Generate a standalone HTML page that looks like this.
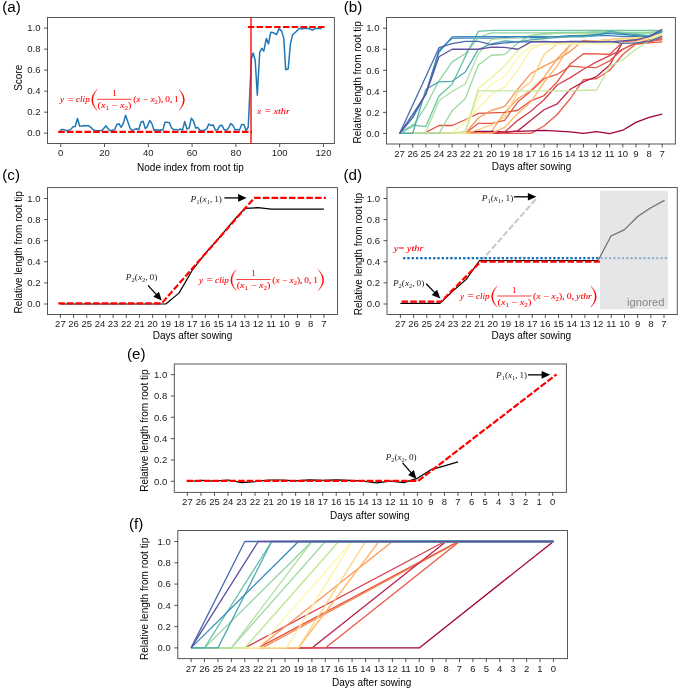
<!DOCTYPE html>
<html><head><meta charset="utf-8"><style>
html,body{margin:0;padding:0;background:#fff;overflow:hidden;width:685px;height:689px;}
svg{display:block;will-change:transform;}
.t{font-family:"Liberation Sans", sans-serif;font-size:10px;fill:#000;}
.L{font-family:"Liberation Sans", sans-serif;font-size:14.5px;fill:#000;}
.k{font-family:"Liberation Sans", sans-serif;font-size:9.5px;fill:#1a1a1a;}
.m{font-family:"Liberation Serif", serif;font-style:italic;fill:#ff0000;}
</style></head><body>
<svg width="685" height="689" viewBox="0 0 685 689">
<rect width="685" height="689" fill="#fff"/>
<rect x="47.5" y="17.5" width="286.9" height="126" fill="none" stroke="#000" stroke-width="1" stroke-opacity="0.66"/>
<line x1="44" y1="133.2" x2="47.5" y2="133.2" stroke="#000" stroke-width="1" stroke-opacity="0.66"/>
<text x="40.5" y="136.45" text-anchor="end" class="k">0.0</text>
<line x1="44" y1="112.18" x2="47.5" y2="112.18" stroke="#000" stroke-width="1" stroke-opacity="0.66"/>
<text x="40.5" y="115.43" text-anchor="end" class="k">0.2</text>
<line x1="44" y1="91.16" x2="47.5" y2="91.16" stroke="#000" stroke-width="1" stroke-opacity="0.66"/>
<text x="40.5" y="94.41" text-anchor="end" class="k">0.4</text>
<line x1="44" y1="70.14" x2="47.5" y2="70.14" stroke="#000" stroke-width="1" stroke-opacity="0.66"/>
<text x="40.5" y="73.39" text-anchor="end" class="k">0.6</text>
<line x1="44" y1="49.12" x2="47.5" y2="49.12" stroke="#000" stroke-width="1" stroke-opacity="0.66"/>
<text x="40.5" y="52.37" text-anchor="end" class="k">0.8</text>
<line x1="44" y1="28.1" x2="47.5" y2="28.1" stroke="#000" stroke-width="1" stroke-opacity="0.66"/>
<text x="40.5" y="31.35" text-anchor="end" class="k">1.0</text>
<line x1="60.7" y1="143.5" x2="60.7" y2="147" stroke="#000" stroke-width="1" stroke-opacity="0.66"/>
<text x="60.7" y="156" text-anchor="middle" class="k">0</text>
<line x1="104.5" y1="143.5" x2="104.5" y2="147" stroke="#000" stroke-width="1" stroke-opacity="0.66"/>
<text x="104.5" y="156" text-anchor="middle" class="k">20</text>
<line x1="148.3" y1="143.5" x2="148.3" y2="147" stroke="#000" stroke-width="1" stroke-opacity="0.66"/>
<text x="148.3" y="156" text-anchor="middle" class="k">40</text>
<line x1="192.1" y1="143.5" x2="192.1" y2="147" stroke="#000" stroke-width="1" stroke-opacity="0.66"/>
<text x="192.1" y="156" text-anchor="middle" class="k">60</text>
<line x1="235.9" y1="143.5" x2="235.9" y2="147" stroke="#000" stroke-width="1" stroke-opacity="0.66"/>
<text x="235.9" y="156" text-anchor="middle" class="k">80</text>
<line x1="279.7" y1="143.5" x2="279.7" y2="147" stroke="#000" stroke-width="1" stroke-opacity="0.66"/>
<text x="279.7" y="156" text-anchor="middle" class="k">100</text>
<line x1="323.5" y1="143.5" x2="323.5" y2="147" stroke="#000" stroke-width="1" stroke-opacity="0.66"/>
<text x="323.5" y="156" text-anchor="middle" class="k">120</text>
<text x="190.4" y="170.7" text-anchor="middle" class="t">Node index from root tip</text>
<text transform="translate(22.3,77.8) rotate(-90)" text-anchor="middle" class="t">Score</text>
<text transform="translate(2.2,11.9) scale(1.05,1)" class="L">(a)</text>
<rect x="386.5" y="17.5" width="288.9" height="126.5" fill="none" stroke="#000" stroke-width="1" stroke-opacity="0.66"/>
<line x1="383" y1="133.4" x2="386.5" y2="133.4" stroke="#000" stroke-width="1" stroke-opacity="0.66"/>
<text x="379.5" y="136.65" text-anchor="end" class="k">0.0</text>
<line x1="383" y1="112.36" x2="386.5" y2="112.36" stroke="#000" stroke-width="1" stroke-opacity="0.66"/>
<text x="379.5" y="115.61" text-anchor="end" class="k">0.2</text>
<line x1="383" y1="91.32" x2="386.5" y2="91.32" stroke="#000" stroke-width="1" stroke-opacity="0.66"/>
<text x="379.5" y="94.57" text-anchor="end" class="k">0.4</text>
<line x1="383" y1="70.28" x2="386.5" y2="70.28" stroke="#000" stroke-width="1" stroke-opacity="0.66"/>
<text x="379.5" y="73.53" text-anchor="end" class="k">0.6</text>
<line x1="383" y1="49.24" x2="386.5" y2="49.24" stroke="#000" stroke-width="1" stroke-opacity="0.66"/>
<text x="379.5" y="52.49" text-anchor="end" class="k">0.8</text>
<line x1="383" y1="28.2" x2="386.5" y2="28.2" stroke="#000" stroke-width="1" stroke-opacity="0.66"/>
<text x="379.5" y="31.45" text-anchor="end" class="k">1.0</text>
<line x1="399.6" y1="144" x2="399.6" y2="147.5" stroke="#000" stroke-width="1" stroke-opacity="0.66"/>
<text x="399.6" y="156.8" text-anchor="middle" class="k">27</text>
<line x1="412.73" y1="144" x2="412.73" y2="147.5" stroke="#000" stroke-width="1" stroke-opacity="0.66"/>
<text x="412.73" y="156.8" text-anchor="middle" class="k">26</text>
<line x1="425.86" y1="144" x2="425.86" y2="147.5" stroke="#000" stroke-width="1" stroke-opacity="0.66"/>
<text x="425.86" y="156.8" text-anchor="middle" class="k">25</text>
<line x1="438.99" y1="144" x2="438.99" y2="147.5" stroke="#000" stroke-width="1" stroke-opacity="0.66"/>
<text x="438.99" y="156.8" text-anchor="middle" class="k">24</text>
<line x1="452.12" y1="144" x2="452.12" y2="147.5" stroke="#000" stroke-width="1" stroke-opacity="0.66"/>
<text x="452.12" y="156.8" text-anchor="middle" class="k">23</text>
<line x1="465.25" y1="144" x2="465.25" y2="147.5" stroke="#000" stroke-width="1" stroke-opacity="0.66"/>
<text x="465.25" y="156.8" text-anchor="middle" class="k">22</text>
<line x1="478.38" y1="144" x2="478.38" y2="147.5" stroke="#000" stroke-width="1" stroke-opacity="0.66"/>
<text x="478.38" y="156.8" text-anchor="middle" class="k">21</text>
<line x1="491.51" y1="144" x2="491.51" y2="147.5" stroke="#000" stroke-width="1" stroke-opacity="0.66"/>
<text x="491.51" y="156.8" text-anchor="middle" class="k">20</text>
<line x1="504.64" y1="144" x2="504.64" y2="147.5" stroke="#000" stroke-width="1" stroke-opacity="0.66"/>
<text x="504.64" y="156.8" text-anchor="middle" class="k">19</text>
<line x1="517.77" y1="144" x2="517.77" y2="147.5" stroke="#000" stroke-width="1" stroke-opacity="0.66"/>
<text x="517.77" y="156.8" text-anchor="middle" class="k">18</text>
<line x1="530.9" y1="144" x2="530.9" y2="147.5" stroke="#000" stroke-width="1" stroke-opacity="0.66"/>
<text x="530.9" y="156.8" text-anchor="middle" class="k">17</text>
<line x1="544.03" y1="144" x2="544.03" y2="147.5" stroke="#000" stroke-width="1" stroke-opacity="0.66"/>
<text x="544.03" y="156.8" text-anchor="middle" class="k">16</text>
<line x1="557.16" y1="144" x2="557.16" y2="147.5" stroke="#000" stroke-width="1" stroke-opacity="0.66"/>
<text x="557.16" y="156.8" text-anchor="middle" class="k">15</text>
<line x1="570.29" y1="144" x2="570.29" y2="147.5" stroke="#000" stroke-width="1" stroke-opacity="0.66"/>
<text x="570.29" y="156.8" text-anchor="middle" class="k">14</text>
<line x1="583.42" y1="144" x2="583.42" y2="147.5" stroke="#000" stroke-width="1" stroke-opacity="0.66"/>
<text x="583.42" y="156.8" text-anchor="middle" class="k">13</text>
<line x1="596.55" y1="144" x2="596.55" y2="147.5" stroke="#000" stroke-width="1" stroke-opacity="0.66"/>
<text x="596.55" y="156.8" text-anchor="middle" class="k">12</text>
<line x1="609.68" y1="144" x2="609.68" y2="147.5" stroke="#000" stroke-width="1" stroke-opacity="0.66"/>
<text x="609.68" y="156.8" text-anchor="middle" class="k">11</text>
<line x1="622.81" y1="144" x2="622.81" y2="147.5" stroke="#000" stroke-width="1" stroke-opacity="0.66"/>
<text x="622.81" y="156.8" text-anchor="middle" class="k">10</text>
<line x1="635.94" y1="144" x2="635.94" y2="147.5" stroke="#000" stroke-width="1" stroke-opacity="0.66"/>
<text x="635.94" y="156.8" text-anchor="middle" class="k">9</text>
<line x1="649.07" y1="144" x2="649.07" y2="147.5" stroke="#000" stroke-width="1" stroke-opacity="0.66"/>
<text x="649.07" y="156.8" text-anchor="middle" class="k">8</text>
<line x1="662.2" y1="144" x2="662.2" y2="147.5" stroke="#000" stroke-width="1" stroke-opacity="0.66"/>
<text x="662.2" y="156.8" text-anchor="middle" class="k">7</text>
<text x="531.5" y="169.5" text-anchor="middle" class="t">Days after sowing</text>
<text transform="translate(361,82.3) rotate(-90)" text-anchor="middle" class="t">Relative length from root tip</text>
<text transform="translate(343.8,12.1) scale(1.05,1)" class="L">(b)</text>
<rect x="47.5" y="187.6" width="290" height="126.9" fill="none" stroke="#000" stroke-width="1" stroke-opacity="0.66"/>
<line x1="44" y1="304" x2="47.5" y2="304" stroke="#000" stroke-width="1" stroke-opacity="0.66"/>
<text x="40.5" y="307.25" text-anchor="end" class="k">0.0</text>
<line x1="44" y1="282.9" x2="47.5" y2="282.9" stroke="#000" stroke-width="1" stroke-opacity="0.66"/>
<text x="40.5" y="286.15" text-anchor="end" class="k">0.2</text>
<line x1="44" y1="261.8" x2="47.5" y2="261.8" stroke="#000" stroke-width="1" stroke-opacity="0.66"/>
<text x="40.5" y="265.05" text-anchor="end" class="k">0.4</text>
<line x1="44" y1="240.7" x2="47.5" y2="240.7" stroke="#000" stroke-width="1" stroke-opacity="0.66"/>
<text x="40.5" y="243.95" text-anchor="end" class="k">0.6</text>
<line x1="44" y1="219.6" x2="47.5" y2="219.6" stroke="#000" stroke-width="1" stroke-opacity="0.66"/>
<text x="40.5" y="222.85" text-anchor="end" class="k">0.8</text>
<line x1="44" y1="198.5" x2="47.5" y2="198.5" stroke="#000" stroke-width="1" stroke-opacity="0.66"/>
<text x="40.5" y="201.75" text-anchor="end" class="k">1.0</text>
<line x1="60.4" y1="314.5" x2="60.4" y2="318" stroke="#000" stroke-width="1" stroke-opacity="0.66"/>
<text x="60.4" y="327.3" text-anchor="middle" class="k">27</text>
<line x1="73.58" y1="314.5" x2="73.58" y2="318" stroke="#000" stroke-width="1" stroke-opacity="0.66"/>
<text x="73.58" y="327.3" text-anchor="middle" class="k">26</text>
<line x1="86.75" y1="314.5" x2="86.75" y2="318" stroke="#000" stroke-width="1" stroke-opacity="0.66"/>
<text x="86.75" y="327.3" text-anchor="middle" class="k">25</text>
<line x1="99.93" y1="314.5" x2="99.93" y2="318" stroke="#000" stroke-width="1" stroke-opacity="0.66"/>
<text x="99.93" y="327.3" text-anchor="middle" class="k">24</text>
<line x1="113.1" y1="314.5" x2="113.1" y2="318" stroke="#000" stroke-width="1" stroke-opacity="0.66"/>
<text x="113.1" y="327.3" text-anchor="middle" class="k">23</text>
<line x1="126.28" y1="314.5" x2="126.28" y2="318" stroke="#000" stroke-width="1" stroke-opacity="0.66"/>
<text x="126.28" y="327.3" text-anchor="middle" class="k">22</text>
<line x1="139.45" y1="314.5" x2="139.45" y2="318" stroke="#000" stroke-width="1" stroke-opacity="0.66"/>
<text x="139.45" y="327.3" text-anchor="middle" class="k">21</text>
<line x1="152.62" y1="314.5" x2="152.62" y2="318" stroke="#000" stroke-width="1" stroke-opacity="0.66"/>
<text x="152.62" y="327.3" text-anchor="middle" class="k">20</text>
<line x1="165.8" y1="314.5" x2="165.8" y2="318" stroke="#000" stroke-width="1" stroke-opacity="0.66"/>
<text x="165.8" y="327.3" text-anchor="middle" class="k">19</text>
<line x1="178.97" y1="314.5" x2="178.97" y2="318" stroke="#000" stroke-width="1" stroke-opacity="0.66"/>
<text x="178.97" y="327.3" text-anchor="middle" class="k">18</text>
<line x1="192.15" y1="314.5" x2="192.15" y2="318" stroke="#000" stroke-width="1" stroke-opacity="0.66"/>
<text x="192.15" y="327.3" text-anchor="middle" class="k">17</text>
<line x1="205.33" y1="314.5" x2="205.33" y2="318" stroke="#000" stroke-width="1" stroke-opacity="0.66"/>
<text x="205.33" y="327.3" text-anchor="middle" class="k">16</text>
<line x1="218.5" y1="314.5" x2="218.5" y2="318" stroke="#000" stroke-width="1" stroke-opacity="0.66"/>
<text x="218.5" y="327.3" text-anchor="middle" class="k">15</text>
<line x1="231.68" y1="314.5" x2="231.68" y2="318" stroke="#000" stroke-width="1" stroke-opacity="0.66"/>
<text x="231.68" y="327.3" text-anchor="middle" class="k">14</text>
<line x1="244.85" y1="314.5" x2="244.85" y2="318" stroke="#000" stroke-width="1" stroke-opacity="0.66"/>
<text x="244.85" y="327.3" text-anchor="middle" class="k">13</text>
<line x1="258.02" y1="314.5" x2="258.02" y2="318" stroke="#000" stroke-width="1" stroke-opacity="0.66"/>
<text x="258.02" y="327.3" text-anchor="middle" class="k">12</text>
<line x1="271.2" y1="314.5" x2="271.2" y2="318" stroke="#000" stroke-width="1" stroke-opacity="0.66"/>
<text x="271.2" y="327.3" text-anchor="middle" class="k">11</text>
<line x1="284.38" y1="314.5" x2="284.38" y2="318" stroke="#000" stroke-width="1" stroke-opacity="0.66"/>
<text x="284.38" y="327.3" text-anchor="middle" class="k">10</text>
<line x1="297.55" y1="314.5" x2="297.55" y2="318" stroke="#000" stroke-width="1" stroke-opacity="0.66"/>
<text x="297.55" y="327.3" text-anchor="middle" class="k">9</text>
<line x1="310.73" y1="314.5" x2="310.73" y2="318" stroke="#000" stroke-width="1" stroke-opacity="0.66"/>
<text x="310.73" y="327.3" text-anchor="middle" class="k">8</text>
<line x1="323.9" y1="314.5" x2="323.9" y2="318" stroke="#000" stroke-width="1" stroke-opacity="0.66"/>
<text x="323.9" y="327.3" text-anchor="middle" class="k">7</text>
<text x="192.5" y="338.9" text-anchor="middle" class="t">Days after sowing</text>
<text transform="translate(22.1,252.4) rotate(-90)" text-anchor="middle" class="t">Relative length from root tip</text>
<text transform="translate(2.2,180.1) scale(1.05,1)" class="L">(c)</text>
<rect x="387" y="187.5" width="290.3" height="127" fill="none" stroke="#000" stroke-width="1" stroke-opacity="0.66"/>
<line x1="383.5" y1="304" x2="387" y2="304" stroke="#000" stroke-width="1" stroke-opacity="0.66"/>
<text x="380" y="307.25" text-anchor="end" class="k">0.0</text>
<line x1="383.5" y1="282.9" x2="387" y2="282.9" stroke="#000" stroke-width="1" stroke-opacity="0.66"/>
<text x="380" y="286.15" text-anchor="end" class="k">0.2</text>
<line x1="383.5" y1="261.8" x2="387" y2="261.8" stroke="#000" stroke-width="1" stroke-opacity="0.66"/>
<text x="380" y="265.05" text-anchor="end" class="k">0.4</text>
<line x1="383.5" y1="240.7" x2="387" y2="240.7" stroke="#000" stroke-width="1" stroke-opacity="0.66"/>
<text x="380" y="243.95" text-anchor="end" class="k">0.6</text>
<line x1="383.5" y1="219.6" x2="387" y2="219.6" stroke="#000" stroke-width="1" stroke-opacity="0.66"/>
<text x="380" y="222.85" text-anchor="end" class="k">0.8</text>
<line x1="383.5" y1="198.5" x2="387" y2="198.5" stroke="#000" stroke-width="1" stroke-opacity="0.66"/>
<text x="380" y="201.75" text-anchor="end" class="k">1.0</text>
<line x1="400.4" y1="314.5" x2="400.4" y2="318" stroke="#000" stroke-width="1" stroke-opacity="0.66"/>
<text x="400.4" y="327.3" text-anchor="middle" class="k">27</text>
<line x1="413.58" y1="314.5" x2="413.58" y2="318" stroke="#000" stroke-width="1" stroke-opacity="0.66"/>
<text x="413.58" y="327.3" text-anchor="middle" class="k">26</text>
<line x1="426.76" y1="314.5" x2="426.76" y2="318" stroke="#000" stroke-width="1" stroke-opacity="0.66"/>
<text x="426.76" y="327.3" text-anchor="middle" class="k">25</text>
<line x1="439.94" y1="314.5" x2="439.94" y2="318" stroke="#000" stroke-width="1" stroke-opacity="0.66"/>
<text x="439.94" y="327.3" text-anchor="middle" class="k">24</text>
<line x1="453.12" y1="314.5" x2="453.12" y2="318" stroke="#000" stroke-width="1" stroke-opacity="0.66"/>
<text x="453.12" y="327.3" text-anchor="middle" class="k">23</text>
<line x1="466.3" y1="314.5" x2="466.3" y2="318" stroke="#000" stroke-width="1" stroke-opacity="0.66"/>
<text x="466.3" y="327.3" text-anchor="middle" class="k">22</text>
<line x1="479.48" y1="314.5" x2="479.48" y2="318" stroke="#000" stroke-width="1" stroke-opacity="0.66"/>
<text x="479.48" y="327.3" text-anchor="middle" class="k">21</text>
<line x1="492.66" y1="314.5" x2="492.66" y2="318" stroke="#000" stroke-width="1" stroke-opacity="0.66"/>
<text x="492.66" y="327.3" text-anchor="middle" class="k">20</text>
<line x1="505.84" y1="314.5" x2="505.84" y2="318" stroke="#000" stroke-width="1" stroke-opacity="0.66"/>
<text x="505.84" y="327.3" text-anchor="middle" class="k">19</text>
<line x1="519.02" y1="314.5" x2="519.02" y2="318" stroke="#000" stroke-width="1" stroke-opacity="0.66"/>
<text x="519.02" y="327.3" text-anchor="middle" class="k">18</text>
<line x1="532.2" y1="314.5" x2="532.2" y2="318" stroke="#000" stroke-width="1" stroke-opacity="0.66"/>
<text x="532.2" y="327.3" text-anchor="middle" class="k">17</text>
<line x1="545.38" y1="314.5" x2="545.38" y2="318" stroke="#000" stroke-width="1" stroke-opacity="0.66"/>
<text x="545.38" y="327.3" text-anchor="middle" class="k">16</text>
<line x1="558.56" y1="314.5" x2="558.56" y2="318" stroke="#000" stroke-width="1" stroke-opacity="0.66"/>
<text x="558.56" y="327.3" text-anchor="middle" class="k">15</text>
<line x1="571.74" y1="314.5" x2="571.74" y2="318" stroke="#000" stroke-width="1" stroke-opacity="0.66"/>
<text x="571.74" y="327.3" text-anchor="middle" class="k">14</text>
<line x1="584.92" y1="314.5" x2="584.92" y2="318" stroke="#000" stroke-width="1" stroke-opacity="0.66"/>
<text x="584.92" y="327.3" text-anchor="middle" class="k">13</text>
<line x1="598.1" y1="314.5" x2="598.1" y2="318" stroke="#000" stroke-width="1" stroke-opacity="0.66"/>
<text x="598.1" y="327.3" text-anchor="middle" class="k">12</text>
<line x1="611.28" y1="314.5" x2="611.28" y2="318" stroke="#000" stroke-width="1" stroke-opacity="0.66"/>
<text x="611.28" y="327.3" text-anchor="middle" class="k">11</text>
<line x1="624.46" y1="314.5" x2="624.46" y2="318" stroke="#000" stroke-width="1" stroke-opacity="0.66"/>
<text x="624.46" y="327.3" text-anchor="middle" class="k">10</text>
<line x1="637.64" y1="314.5" x2="637.64" y2="318" stroke="#000" stroke-width="1" stroke-opacity="0.66"/>
<text x="637.64" y="327.3" text-anchor="middle" class="k">9</text>
<line x1="650.82" y1="314.5" x2="650.82" y2="318" stroke="#000" stroke-width="1" stroke-opacity="0.66"/>
<text x="650.82" y="327.3" text-anchor="middle" class="k">8</text>
<line x1="664" y1="314.5" x2="664" y2="318" stroke="#000" stroke-width="1" stroke-opacity="0.66"/>
<text x="664" y="327.3" text-anchor="middle" class="k">7</text>
<text x="531.35" y="339.2" text-anchor="middle" class="t">Days after sowing</text>
<text transform="translate(361.5,254.1) rotate(-90)" text-anchor="middle" class="t">Relative length from root tip</text>
<text transform="translate(343.4,180.1) scale(1.05,1)" class="L">(d)</text>
<rect x="174.3" y="364" width="392.1" height="128.4" fill="none" stroke="#000" stroke-width="1" stroke-opacity="0.66"/>
<line x1="170.8" y1="481.3" x2="174.3" y2="481.3" stroke="#000" stroke-width="1" stroke-opacity="0.66"/>
<text x="167.3" y="484.55" text-anchor="end" class="k">0.0</text>
<line x1="170.8" y1="459.96" x2="174.3" y2="459.96" stroke="#000" stroke-width="1" stroke-opacity="0.66"/>
<text x="167.3" y="463.21" text-anchor="end" class="k">0.2</text>
<line x1="170.8" y1="438.62" x2="174.3" y2="438.62" stroke="#000" stroke-width="1" stroke-opacity="0.66"/>
<text x="167.3" y="441.87" text-anchor="end" class="k">0.4</text>
<line x1="170.8" y1="417.28" x2="174.3" y2="417.28" stroke="#000" stroke-width="1" stroke-opacity="0.66"/>
<text x="167.3" y="420.53" text-anchor="end" class="k">0.6</text>
<line x1="170.8" y1="395.94" x2="174.3" y2="395.94" stroke="#000" stroke-width="1" stroke-opacity="0.66"/>
<text x="167.3" y="399.19" text-anchor="end" class="k">0.8</text>
<line x1="170.8" y1="374.6" x2="174.3" y2="374.6" stroke="#000" stroke-width="1" stroke-opacity="0.66"/>
<text x="167.3" y="377.85" text-anchor="end" class="k">1.0</text>
<line x1="187.4" y1="492.4" x2="187.4" y2="495.9" stroke="#000" stroke-width="1" stroke-opacity="0.66"/>
<text x="187.4" y="505.4" text-anchor="middle" class="k">27</text>
<line x1="200.93" y1="492.4" x2="200.93" y2="495.9" stroke="#000" stroke-width="1" stroke-opacity="0.66"/>
<text x="200.93" y="505.4" text-anchor="middle" class="k">26</text>
<line x1="214.46" y1="492.4" x2="214.46" y2="495.9" stroke="#000" stroke-width="1" stroke-opacity="0.66"/>
<text x="214.46" y="505.4" text-anchor="middle" class="k">25</text>
<line x1="227.99" y1="492.4" x2="227.99" y2="495.9" stroke="#000" stroke-width="1" stroke-opacity="0.66"/>
<text x="227.99" y="505.4" text-anchor="middle" class="k">24</text>
<line x1="241.52" y1="492.4" x2="241.52" y2="495.9" stroke="#000" stroke-width="1" stroke-opacity="0.66"/>
<text x="241.52" y="505.4" text-anchor="middle" class="k">23</text>
<line x1="255.05" y1="492.4" x2="255.05" y2="495.9" stroke="#000" stroke-width="1" stroke-opacity="0.66"/>
<text x="255.05" y="505.4" text-anchor="middle" class="k">22</text>
<line x1="268.58" y1="492.4" x2="268.58" y2="495.9" stroke="#000" stroke-width="1" stroke-opacity="0.66"/>
<text x="268.58" y="505.4" text-anchor="middle" class="k">21</text>
<line x1="282.11" y1="492.4" x2="282.11" y2="495.9" stroke="#000" stroke-width="1" stroke-opacity="0.66"/>
<text x="282.11" y="505.4" text-anchor="middle" class="k">20</text>
<line x1="295.64" y1="492.4" x2="295.64" y2="495.9" stroke="#000" stroke-width="1" stroke-opacity="0.66"/>
<text x="295.64" y="505.4" text-anchor="middle" class="k">19</text>
<line x1="309.17" y1="492.4" x2="309.17" y2="495.9" stroke="#000" stroke-width="1" stroke-opacity="0.66"/>
<text x="309.17" y="505.4" text-anchor="middle" class="k">18</text>
<line x1="322.7" y1="492.4" x2="322.7" y2="495.9" stroke="#000" stroke-width="1" stroke-opacity="0.66"/>
<text x="322.7" y="505.4" text-anchor="middle" class="k">17</text>
<line x1="336.23" y1="492.4" x2="336.23" y2="495.9" stroke="#000" stroke-width="1" stroke-opacity="0.66"/>
<text x="336.23" y="505.4" text-anchor="middle" class="k">16</text>
<line x1="349.76" y1="492.4" x2="349.76" y2="495.9" stroke="#000" stroke-width="1" stroke-opacity="0.66"/>
<text x="349.76" y="505.4" text-anchor="middle" class="k">15</text>
<line x1="363.29" y1="492.4" x2="363.29" y2="495.9" stroke="#000" stroke-width="1" stroke-opacity="0.66"/>
<text x="363.29" y="505.4" text-anchor="middle" class="k">14</text>
<line x1="376.82" y1="492.4" x2="376.82" y2="495.9" stroke="#000" stroke-width="1" stroke-opacity="0.66"/>
<text x="376.82" y="505.4" text-anchor="middle" class="k">13</text>
<line x1="390.35" y1="492.4" x2="390.35" y2="495.9" stroke="#000" stroke-width="1" stroke-opacity="0.66"/>
<text x="390.35" y="505.4" text-anchor="middle" class="k">12</text>
<line x1="403.88" y1="492.4" x2="403.88" y2="495.9" stroke="#000" stroke-width="1" stroke-opacity="0.66"/>
<text x="403.88" y="505.4" text-anchor="middle" class="k">11</text>
<line x1="417.41" y1="492.4" x2="417.41" y2="495.9" stroke="#000" stroke-width="1" stroke-opacity="0.66"/>
<text x="417.41" y="505.4" text-anchor="middle" class="k">10</text>
<line x1="430.94" y1="492.4" x2="430.94" y2="495.9" stroke="#000" stroke-width="1" stroke-opacity="0.66"/>
<text x="430.94" y="505.4" text-anchor="middle" class="k">9</text>
<line x1="444.47" y1="492.4" x2="444.47" y2="495.9" stroke="#000" stroke-width="1" stroke-opacity="0.66"/>
<text x="444.47" y="505.4" text-anchor="middle" class="k">8</text>
<line x1="458" y1="492.4" x2="458" y2="495.9" stroke="#000" stroke-width="1" stroke-opacity="0.66"/>
<text x="458" y="505.4" text-anchor="middle" class="k">7</text>
<line x1="471.53" y1="492.4" x2="471.53" y2="495.9" stroke="#000" stroke-width="1" stroke-opacity="0.66"/>
<text x="471.53" y="505.4" text-anchor="middle" class="k">6</text>
<line x1="485.06" y1="492.4" x2="485.06" y2="495.9" stroke="#000" stroke-width="1" stroke-opacity="0.66"/>
<text x="485.06" y="505.4" text-anchor="middle" class="k">5</text>
<line x1="498.59" y1="492.4" x2="498.59" y2="495.9" stroke="#000" stroke-width="1" stroke-opacity="0.66"/>
<text x="498.59" y="505.4" text-anchor="middle" class="k">4</text>
<line x1="512.12" y1="492.4" x2="512.12" y2="495.9" stroke="#000" stroke-width="1" stroke-opacity="0.66"/>
<text x="512.12" y="505.4" text-anchor="middle" class="k">3</text>
<line x1="525.65" y1="492.4" x2="525.65" y2="495.9" stroke="#000" stroke-width="1" stroke-opacity="0.66"/>
<text x="525.65" y="505.4" text-anchor="middle" class="k">2</text>
<line x1="539.18" y1="492.4" x2="539.18" y2="495.9" stroke="#000" stroke-width="1" stroke-opacity="0.66"/>
<text x="539.18" y="505.4" text-anchor="middle" class="k">1</text>
<line x1="552.71" y1="492.4" x2="552.71" y2="495.9" stroke="#000" stroke-width="1" stroke-opacity="0.66"/>
<text x="552.71" y="505.4" text-anchor="middle" class="k">0</text>
<text x="369.75" y="519.4" text-anchor="middle" class="t">Days after sowing</text>
<text transform="translate(147.8,430.6) rotate(-90)" text-anchor="middle" class="t">Relative length from root tip</text>
<text transform="translate(126.9,359.2) scale(1.05,1)" class="L">(e)</text>
<rect x="177.8" y="530.5" width="389.7" height="128.1" fill="none" stroke="#000" stroke-width="1" stroke-opacity="0.66"/>
<line x1="174.3" y1="647.9" x2="177.8" y2="647.9" stroke="#000" stroke-width="1" stroke-opacity="0.66"/>
<text x="170.8" y="651.15" text-anchor="end" class="k">0.0</text>
<line x1="174.3" y1="626.62" x2="177.8" y2="626.62" stroke="#000" stroke-width="1" stroke-opacity="0.66"/>
<text x="170.8" y="629.87" text-anchor="end" class="k">0.2</text>
<line x1="174.3" y1="605.34" x2="177.8" y2="605.34" stroke="#000" stroke-width="1" stroke-opacity="0.66"/>
<text x="170.8" y="608.59" text-anchor="end" class="k">0.4</text>
<line x1="174.3" y1="584.06" x2="177.8" y2="584.06" stroke="#000" stroke-width="1" stroke-opacity="0.66"/>
<text x="170.8" y="587.31" text-anchor="end" class="k">0.6</text>
<line x1="174.3" y1="562.78" x2="177.8" y2="562.78" stroke="#000" stroke-width="1" stroke-opacity="0.66"/>
<text x="170.8" y="566.03" text-anchor="end" class="k">0.8</text>
<line x1="174.3" y1="541.5" x2="177.8" y2="541.5" stroke="#000" stroke-width="1" stroke-opacity="0.66"/>
<text x="170.8" y="544.75" text-anchor="end" class="k">1.0</text>
<line x1="191.1" y1="658.6" x2="191.1" y2="662.1" stroke="#000" stroke-width="1" stroke-opacity="0.66"/>
<text x="191.1" y="671.5" text-anchor="middle" class="k">27</text>
<line x1="204.52" y1="658.6" x2="204.52" y2="662.1" stroke="#000" stroke-width="1" stroke-opacity="0.66"/>
<text x="204.52" y="671.5" text-anchor="middle" class="k">26</text>
<line x1="217.94" y1="658.6" x2="217.94" y2="662.1" stroke="#000" stroke-width="1" stroke-opacity="0.66"/>
<text x="217.94" y="671.5" text-anchor="middle" class="k">25</text>
<line x1="231.36" y1="658.6" x2="231.36" y2="662.1" stroke="#000" stroke-width="1" stroke-opacity="0.66"/>
<text x="231.36" y="671.5" text-anchor="middle" class="k">24</text>
<line x1="244.78" y1="658.6" x2="244.78" y2="662.1" stroke="#000" stroke-width="1" stroke-opacity="0.66"/>
<text x="244.78" y="671.5" text-anchor="middle" class="k">23</text>
<line x1="258.2" y1="658.6" x2="258.2" y2="662.1" stroke="#000" stroke-width="1" stroke-opacity="0.66"/>
<text x="258.2" y="671.5" text-anchor="middle" class="k">22</text>
<line x1="271.62" y1="658.6" x2="271.62" y2="662.1" stroke="#000" stroke-width="1" stroke-opacity="0.66"/>
<text x="271.62" y="671.5" text-anchor="middle" class="k">21</text>
<line x1="285.04" y1="658.6" x2="285.04" y2="662.1" stroke="#000" stroke-width="1" stroke-opacity="0.66"/>
<text x="285.04" y="671.5" text-anchor="middle" class="k">20</text>
<line x1="298.46" y1="658.6" x2="298.46" y2="662.1" stroke="#000" stroke-width="1" stroke-opacity="0.66"/>
<text x="298.46" y="671.5" text-anchor="middle" class="k">19</text>
<line x1="311.88" y1="658.6" x2="311.88" y2="662.1" stroke="#000" stroke-width="1" stroke-opacity="0.66"/>
<text x="311.88" y="671.5" text-anchor="middle" class="k">18</text>
<line x1="325.3" y1="658.6" x2="325.3" y2="662.1" stroke="#000" stroke-width="1" stroke-opacity="0.66"/>
<text x="325.3" y="671.5" text-anchor="middle" class="k">17</text>
<line x1="338.72" y1="658.6" x2="338.72" y2="662.1" stroke="#000" stroke-width="1" stroke-opacity="0.66"/>
<text x="338.72" y="671.5" text-anchor="middle" class="k">16</text>
<line x1="352.14" y1="658.6" x2="352.14" y2="662.1" stroke="#000" stroke-width="1" stroke-opacity="0.66"/>
<text x="352.14" y="671.5" text-anchor="middle" class="k">15</text>
<line x1="365.56" y1="658.6" x2="365.56" y2="662.1" stroke="#000" stroke-width="1" stroke-opacity="0.66"/>
<text x="365.56" y="671.5" text-anchor="middle" class="k">14</text>
<line x1="378.98" y1="658.6" x2="378.98" y2="662.1" stroke="#000" stroke-width="1" stroke-opacity="0.66"/>
<text x="378.98" y="671.5" text-anchor="middle" class="k">13</text>
<line x1="392.4" y1="658.6" x2="392.4" y2="662.1" stroke="#000" stroke-width="1" stroke-opacity="0.66"/>
<text x="392.4" y="671.5" text-anchor="middle" class="k">12</text>
<line x1="405.82" y1="658.6" x2="405.82" y2="662.1" stroke="#000" stroke-width="1" stroke-opacity="0.66"/>
<text x="405.82" y="671.5" text-anchor="middle" class="k">11</text>
<line x1="419.24" y1="658.6" x2="419.24" y2="662.1" stroke="#000" stroke-width="1" stroke-opacity="0.66"/>
<text x="419.24" y="671.5" text-anchor="middle" class="k">10</text>
<line x1="432.66" y1="658.6" x2="432.66" y2="662.1" stroke="#000" stroke-width="1" stroke-opacity="0.66"/>
<text x="432.66" y="671.5" text-anchor="middle" class="k">9</text>
<line x1="446.08" y1="658.6" x2="446.08" y2="662.1" stroke="#000" stroke-width="1" stroke-opacity="0.66"/>
<text x="446.08" y="671.5" text-anchor="middle" class="k">8</text>
<line x1="459.5" y1="658.6" x2="459.5" y2="662.1" stroke="#000" stroke-width="1" stroke-opacity="0.66"/>
<text x="459.5" y="671.5" text-anchor="middle" class="k">7</text>
<line x1="472.92" y1="658.6" x2="472.92" y2="662.1" stroke="#000" stroke-width="1" stroke-opacity="0.66"/>
<text x="472.92" y="671.5" text-anchor="middle" class="k">6</text>
<line x1="486.34" y1="658.6" x2="486.34" y2="662.1" stroke="#000" stroke-width="1" stroke-opacity="0.66"/>
<text x="486.34" y="671.5" text-anchor="middle" class="k">5</text>
<line x1="499.76" y1="658.6" x2="499.76" y2="662.1" stroke="#000" stroke-width="1" stroke-opacity="0.66"/>
<text x="499.76" y="671.5" text-anchor="middle" class="k">4</text>
<line x1="513.18" y1="658.6" x2="513.18" y2="662.1" stroke="#000" stroke-width="1" stroke-opacity="0.66"/>
<text x="513.18" y="671.5" text-anchor="middle" class="k">3</text>
<line x1="526.6" y1="658.6" x2="526.6" y2="662.1" stroke="#000" stroke-width="1" stroke-opacity="0.66"/>
<text x="526.6" y="671.5" text-anchor="middle" class="k">2</text>
<line x1="540.02" y1="658.6" x2="540.02" y2="662.1" stroke="#000" stroke-width="1" stroke-opacity="0.66"/>
<text x="540.02" y="671.5" text-anchor="middle" class="k">1</text>
<line x1="553.44" y1="658.6" x2="553.44" y2="662.1" stroke="#000" stroke-width="1" stroke-opacity="0.66"/>
<text x="553.44" y="671.5" text-anchor="middle" class="k">0</text>
<text x="371.65" y="685.9" text-anchor="middle" class="t">Days after sowing</text>
<text transform="translate(147.8,598.9) rotate(-90)" text-anchor="middle" class="t">Relative length from root tip</text>
<text transform="translate(128.9,529.2) scale(1.05,1)" class="L">(f)</text>
<polyline points="59.9,130.83 62.09,129.37 64.28,129.68 66.47,130.83 68.66,130.1 70.85,129.37 73.04,126.65 75.23,126.44 77.42,118.5 79.61,126.02 81.8,126.23 83.99,125.5 86.18,126.02 88.37,125.5 90.56,127.07 92.75,129.37 94.94,130.62 97.13,130.83 99.32,130.83 101.51,130.62 103.7,128.42 105.89,125.81 108.08,128.74 110.27,130.62 112.46,130.31 114.65,129.68 116.84,124.45 119.03,123.83 121.22,127.48 123.41,123.09 125.6,115.26 127.79,121.84 129.98,128.01 132.17,130.62 134.36,129.37 136.55,128.74 138.74,129.68 140.93,122.26 143.12,121.21 145.31,128.63 147.5,126.23 149.69,120.48 151.88,123.62 154.07,130.31 156.26,129.68 158.45,130.31 160.64,129.68 162.83,130.1 165.02,122.26 167.21,122.26 169.4,122.68 171.59,128.01 173.78,129.68 175.97,129.37 178.16,130.1 180.35,129.05 182.54,130.1 184.73,121.42 186.92,129.05 189.11,128.01 191.3,118.29 193.49,121 195.68,128.01 197.87,127.48 200.06,130.62 202.25,130.62 204.44,130.31 206.63,128.84 208.82,124.04 211.01,125.6 213.2,125.08 215.39,130.1 217.58,129.68 219.77,125.81 221.96,125.29 224.15,129.68 226.34,130.31 228.53,128.01 230.72,123.62 232.91,125.29 235.1,129.99 237.29,129.37 239.48,130.1 241.67,124.45 243.86,124.45 246.05,130.62 248.24,127.28 251.4,58.8 253.1,53 255.2,60.3 257.3,95.3 259.7,52.2 261.9,48.3 263.8,51.2 266.3,38.4 268.5,43.9 270.7,32.2 273.6,32.8 276.5,34.7 279.1,28.6 281.6,31.1 283.8,38.4 285.7,69.7 288.2,68.7 290.4,44.2 292.6,34.7 295.5,32.2 299.1,28.4 301.3,29 304.2,28.4 308.6,28.4 312.3,30 315.2,28.6 319.6,28.4 321.8,28.4" fill="none" stroke="#1f77b4" stroke-width="1.5" stroke-linejoin="round" />
<polyline points="58.2,131.9 252,131.9" fill="none" stroke="#ff0000" stroke-width="2.2" stroke-linejoin="round" stroke-dasharray="6.5,2.25" />
<polyline points="247.8,27 324.6,27" fill="none" stroke="#ff0000" stroke-width="2.2" stroke-linejoin="round" stroke-dasharray="6.5,2.28" />
<line x1="251" y1="17.5" x2="251" y2="143.6" stroke="#ff0000" stroke-width="1.6" stroke-opacity="0.85"/>
<text x="60.0" y="102.3" font-size="9.0" fill="#ff0000" stroke="#ff0000" stroke-width="0.08" font-family="Liberation Serif, serif"><tspan font-style="italic">y</tspan></text>
<text x="67.3" y="102.5" font-size="11.25" fill="#ff0000" stroke="#ff0000" stroke-width="0.08" font-family="Liberation Serif, serif">=</text>
<text x="76.0" y="102.3" font-size="9.0" fill="#ff0000" stroke="#ff0000" stroke-width="0.08" font-family="Liberation Serif, serif" textLength="13.7" lengthAdjust="spacingAndGlyphs"><tspan font-style="italic">clip</tspan></text>
<path d="M97.20,89.20 Q86.00,99.85 97.20,110.50 Q88.60,99.85 97.20,89.20 Z" fill="#ff0000" stroke="#ff0000" stroke-width="0.25"/>
<text x="114.4" y="96.2" font-size="9.0" fill="#ff0000" stroke="#ff0000" stroke-width="0.08" font-family="Liberation Serif, serif" text-anchor="middle">1</text>
<line x1="97.2" y1="99.3" x2="131.5" y2="99.3" stroke="#ff0000" stroke-width="0.75"/>
<text x="97.6" y="108.0" font-size="9.0" fill="#ff0000" stroke="#ff0000" stroke-width="0.08" font-family="Liberation Serif, serif" textLength="33.8" lengthAdjust="spacingAndGlyphs">(<tspan font-style="italic">x</tspan><tspan font-size="6.3" baseline-shift="-2.0">1</tspan> − <tspan font-style="italic">x</tspan><tspan font-size="6.3" baseline-shift="-2.0">2</tspan>)</text>
<text x="133.2" y="102.3" font-size="9.0" fill="#ff0000" stroke="#ff0000" stroke-width="0.08" font-family="Liberation Serif, serif" textLength="45.6" lengthAdjust="spacingAndGlyphs">(<tspan font-style="italic">x</tspan> − <tspan font-style="italic">x</tspan><tspan font-size="6.3" baseline-shift="-2.0">2</tspan>), 0, 1</text>
<path d="M178.90,89.20 Q190.10,99.85 178.90,110.50 Q187.50,99.85 178.90,89.20 Z" fill="#ff0000" stroke="#ff0000" stroke-width="0.25"/>
<text x="257.3" y="113.9" font-size="9" fill="#ff0000" stroke="#ff0000" stroke-width="0.08" font-family="Liberation Serif, serif"><tspan font-style="italic">x</tspan></text>
<text x="264.6" y="114.1" font-size="11.25" fill="#ff0000" stroke="#ff0000" stroke-width="0.08" font-family="Liberation Serif, serif">=</text>
<text x="273.5" y="113.9" font-size="9" fill="#ff0000" stroke="#ff0000" stroke-width="0.08" font-family="Liberation Serif, serif" textLength="16.4" lengthAdjust="spacingAndGlyphs"><tspan font-style="italic">xthr</tspan></text>
<polyline points="399.6,133.4 412.73,117.62 425.86,93.42 438.99,50.29 452.12,38.19 465.25,38.19 478.38,38.19 491.51,38.19 504.64,37.67 517.77,37.67 530.9,37.67 544.03,37.67 557.16,37.14 570.29,36.62 583.42,36.62 596.55,35.56 609.68,35.56 622.81,36.62 635.94,36.62 649.07,35.56 662.2,32.41" fill="none" stroke="#3f7fb8" stroke-width="1.3" stroke-linejoin="round" />
<polyline points="399.6,133.4 412.73,133.4 425.86,133.4 438.99,133.4 452.12,133.4 465.25,133.4 478.38,133.4 491.51,133.4 504.64,133.4 517.77,133.4 530.9,133.4 544.03,126.04 557.16,114.46 570.29,98.68 583.42,79.75 596.55,78.7 609.68,70.28 622.81,54.5 635.94,43.98 649.07,42.93 662.2,41.88" fill="none" stroke="#e75948" stroke-width="1.3" stroke-linejoin="round" />
<polyline points="399.6,133.4 412.73,133.4 425.86,133.4 438.99,133.4 452.12,133.4 465.25,133.4 478.38,133.4 491.51,131.3 504.64,112.36 517.77,98.68 530.9,90.27 544.03,77.12 557.16,58.71 570.29,45.03 583.42,40.82 596.55,40.82 609.68,39.77 622.81,38.72 635.94,38.72 649.07,37.67 662.2,36.62" fill="none" stroke="#fca55d" stroke-width="1.3" stroke-linejoin="round" />
<polyline points="399.6,133.4 412.73,133.4 425.86,133.4 438.99,133.4 452.12,133.4 465.25,132.35 478.38,131.4 491.51,131.3 504.64,131.82 517.77,131.3 530.9,130.88 544.03,130.45 557.16,131.19 570.29,131.93 583.42,133.4 596.55,131.72 609.68,133.61 622.81,130.24 635.94,122.35 649.07,117.41 662.2,114.15" fill="none" stroke="#9e0142" stroke-width="1.3" stroke-linejoin="round" />
<polyline points="399.6,133.4 412.73,133.4 425.86,133.4 438.99,133.4 452.12,133.4 465.25,133.4 478.38,133.4 491.51,133.4 504.64,132.35 517.77,130.88 530.9,120.36 544.03,109.73 557.16,103.94 570.29,89.22 583.42,81.85 596.55,76.59 609.68,65.02 622.81,41.88 635.94,40.82 649.07,38.72 662.2,36.62" fill="none" stroke="#ba2049" stroke-width="1.3" stroke-linejoin="round" />
<polyline points="399.6,133.4 412.73,133.4 425.86,133.4 438.99,133.4 452.12,133.4 465.25,133.4 478.38,133.4 491.51,133.4 504.64,132.03 517.77,120.36 530.9,111.31 544.03,99.74 557.16,85.01 570.29,77.64 583.42,69.23 596.55,61.86 609.68,55.55 622.81,49.24 635.94,42.93 649.07,41.88 662.2,38.72" fill="none" stroke="#d63f4f" stroke-width="1.3" stroke-linejoin="round" />
<polyline points="399.6,133.4 412.73,133.4 425.86,133.4 438.99,133.4 452.12,133.4 465.25,133.4 478.38,123.3 491.51,123.3 504.64,120.36 517.77,101.84 530.9,91.32 544.03,78.7 557.16,74.49 570.29,66.07 583.42,67.12 596.55,67.54 609.68,60.81 622.81,49.24 635.94,42.93 649.07,40.82 662.2,39.77" fill="none" stroke="#e75948" stroke-width="1.3" stroke-linejoin="round" />
<polyline points="399.6,133.4 412.73,133.4 425.86,132.35 438.99,125.51 452.12,125.51 465.25,119.72 478.38,113.41 491.51,112.89 504.64,112.36 517.77,110.26 530.9,100.79 544.03,95.53 557.16,81.85 570.29,63.97 583.42,53.76 596.55,53.97 609.68,54.5 622.81,41.88 635.94,40.82 649.07,39.77 662.2,37.67" fill="none" stroke="#e4513f" stroke-width="1.3" stroke-linejoin="round" />
<polyline points="399.6,133.4 412.73,133.4 425.86,133.4 438.99,133.4 452.12,133.4 465.25,133.4 478.38,118.04 491.51,110.26 504.64,106.47 517.77,89.22 530.9,73.44 544.03,66.07 557.16,59.76 570.29,51.34 583.42,40.3 596.55,40.82 609.68,40.82 622.81,39.77 635.94,39.77 649.07,38.72 662.2,37.67" fill="none" stroke="#fa9656" stroke-width="1.3" stroke-linejoin="round" />
<polyline points="399.6,133.4 412.73,133.4 425.86,133.4 438.99,133.4 452.12,133.4 465.25,133.4 478.38,133.4 491.51,133.4 504.64,127.4 517.77,113.41 530.9,101.84 544.03,82.27 557.16,66.07 570.29,44.51 583.42,41.88 596.55,40.82 609.68,39.77 622.81,38.72 635.94,38.72 649.07,37.67 662.2,35.56" fill="none" stroke="#fdb567" stroke-width="1.3" stroke-linejoin="round" />
<polyline points="399.6,133.4 412.73,133.4 425.86,133.4 438.99,133.4 452.12,133.4 465.25,133.4 478.38,129.72 491.51,124.98 504.64,116.88 517.77,92.37 530.9,81.85 544.03,54.5 557.16,43.98 570.29,42.93 583.42,41.88 596.55,40.82 609.68,39.77 622.81,38.72 635.94,37.67 649.07,36.62 662.2,33.46" fill="none" stroke="#fed07e" stroke-width="1.3" stroke-linejoin="round" />
<polyline points="399.6,133.4 412.73,133.4 425.86,133.4 438.99,133.4 452.12,133.4 465.25,121.83 478.38,108.57 491.51,93.95 504.64,87.11 517.77,70.28 530.9,49.24 544.03,43.98 557.16,42.93 570.29,42.93 583.42,42.93 596.55,41.88 609.68,40.82 622.81,39.77 635.94,38.72 649.07,37.67 662.2,35.56" fill="none" stroke="#fcf0a0" stroke-width="1.3" stroke-linejoin="round" />
<polyline points="399.6,133.4 412.73,133.4 425.86,133.4 438.99,133.4 452.12,133.4 465.25,132.35 478.38,98.68 491.51,83.96 504.64,76.59 517.77,57.66 530.9,46.08 544.03,43.98 557.16,43.98 570.29,43.98 583.42,43.98 596.55,43.98 609.68,43.98 622.81,42.93 635.94,41.88 649.07,38.72 662.2,36.62" fill="none" stroke="#fbf8b0" stroke-width="1.3" stroke-linejoin="round" />
<polyline points="399.6,133.4 412.73,133.4 425.86,133.4 438.99,133.4 452.12,133.4 465.25,132.35 478.38,88.16 491.51,77.64 504.64,66.07 517.77,50.29 530.9,41.88 544.03,38.72 557.16,36.62 570.29,35.56 583.42,34.51 596.55,33.46 609.68,33.46 622.81,33.46 635.94,33.46 649.07,32.41 662.2,31.36" fill="none" stroke="#e6f598" stroke-width="1.3" stroke-linejoin="round" />
<polyline points="399.6,133.4 412.73,133.4 425.86,133.4 438.99,133.4 452.12,133.4 465.25,131.3 478.38,90.79 491.51,90.79 504.64,90.79 517.77,90.79 530.9,90.79 544.03,90.79 557.16,90.79 570.29,90.79 583.42,90.27 596.55,90.27 609.68,66.07 622.81,59.76 635.94,49.24 649.07,40.82 662.2,35.56" fill="none" stroke="#c4e79f" stroke-width="1.3" stroke-linejoin="round" />
<polyline points="399.6,133.4 412.73,133.4 425.86,133.4 438.99,133.4 452.12,110.68 465.25,98.68 478.38,65.02 491.51,55.24 504.64,54.5 517.77,42.93 530.9,35.56 544.03,33.46 557.16,32.41 570.29,32.41 583.42,32.41 596.55,31.36 609.68,31.36 622.81,32.41 635.94,33.46 649.07,33.46 662.2,32.41" fill="none" stroke="#9fd8a3" stroke-width="1.3" stroke-linejoin="round" />
<polyline points="399.6,133.4 412.73,133.4 425.86,132.35 438.99,100.79 452.12,91.32 465.25,83.96 478.38,53.76 491.51,39.46 504.64,38.72 517.77,37.67 530.9,35.56 544.03,34.51 557.16,33.46 570.29,33.46 583.42,33.46 596.55,33.46 609.68,32.41 622.81,32.41 635.94,32.41 649.07,32.41 662.2,31.36" fill="none" stroke="#b3e0a2" stroke-width="1.3" stroke-linejoin="round" />
<polyline points="399.6,133.4 412.73,126.56 425.86,106.05 438.99,80.8 452.12,61.86 465.25,53.76 478.38,37.67 491.51,32.93 504.64,32.93 517.77,32.93 530.9,32.93 544.03,32.93 557.16,32.93 570.29,32.41 583.42,32.41 596.55,32.41 609.68,32.41 622.81,32.41 635.94,32.41 649.07,32.41 662.2,31.36" fill="none" stroke="#91d3a4" stroke-width="1.3" stroke-linejoin="round" />
<polyline points="399.6,133.4 412.73,124.98 425.86,126.56 438.99,95.95 452.12,84.17 465.25,56.6 478.38,31.36 491.51,30.3 504.64,30.3 517.77,30.3 530.9,30.3 544.03,30.3 557.16,30.3 570.29,30.3 583.42,30.3 596.55,30.3 609.68,30.3 622.81,30.3 635.94,30.3 649.07,30.3 662.2,30.3" fill="none" stroke="#6bc4a5" stroke-width="1.3" stroke-linejoin="round" />
<polyline points="399.6,133.4 412.73,133.4 425.86,89.22 438.99,81.85 452.12,81.33 465.25,72.07 478.38,49.24 491.51,43.98 504.64,40.82 517.77,41.88 530.9,39.77 544.03,38.72 557.16,37.67 570.29,36.62 583.42,36.62 596.55,35.56 609.68,31.36 622.81,33.46 635.94,34.51 649.07,35.56 662.2,31.36" fill="none" stroke="#50a9af" stroke-width="1.3" stroke-linejoin="round" />
<polyline points="399.6,133.4 412.73,117.62 425.86,93.42 438.99,52.4 452.12,36.93 465.25,36.62 478.38,36.62 491.51,36.62 504.64,36.62 517.77,36.62 530.9,36.62 544.03,36.62 557.16,36.62 570.29,35.56 583.42,35.56 596.55,34.51 609.68,33.46 622.81,34.51 635.94,35.56 649.07,36.62 662.2,31.36" fill="none" stroke="#3389bd" stroke-width="1.3" stroke-linejoin="round" />
<polyline points="399.6,133.4 412.73,105 425.86,76.59 438.99,47.66 452.12,43.56 465.25,41.46 478.38,41.46 491.51,44.51 504.64,42.93 517.77,41.88 530.9,41.88 544.03,41.88 557.16,41.88 570.29,41.88 583.42,41.88 596.55,41.88 609.68,41.46 622.81,43.45 635.94,42.93 649.07,41.46 662.2,36.41" fill="none" stroke="#486cb0" stroke-width="1.3" stroke-linejoin="round" />
<polyline points="399.6,133.4 412.73,114.46 425.86,94.48 438.99,56.81 452.12,49.24 465.25,49.24 478.38,49.24 491.51,47.14 504.64,47.45 517.77,49.24 530.9,41.88 544.03,41.35 557.16,41.88 570.29,41.35 583.42,41.35 596.55,41.88 609.68,41.88 622.81,40.82 635.94,39.77 649.07,36.62 662.2,29.25" fill="none" stroke="#5e4fa2" stroke-width="1.3" stroke-linejoin="round" />
<polyline points="60.4,304 73.58,304 86.75,304 99.93,304 113.1,304 126.28,304 139.45,304 152.62,304 165.8,304 178.97,293.13 192.15,270.45 205.33,253.36 218.5,238.59 231.68,222.76 244.85,208.42 258.02,207.68 271.2,209.05 284.38,209.05 297.55,209.05 310.73,209.05 323.9,209.05" fill="none" stroke="#000" stroke-width="1.2" stroke-linejoin="round" />
<polyline points="58.3,303.3 161.8,303.3 254.3,197.9 326,197.9" fill="none" stroke="#ff0000" stroke-width="2.2" stroke-linejoin="round" stroke-dasharray="6.5,2.2" />
<text x="190.5" y="201.8" font-size="9" fill="#222" font-family="Liberation Serif, serif" textLength="31.5" lengthAdjust="spacingAndGlyphs"><tspan font-style="italic">P</tspan><tspan font-size="6.3" baseline-shift="-2.0">1</tspan>(<tspan font-style="italic">x</tspan><tspan font-size="6.3" baseline-shift="-2.0">1</tspan>, 1)</text>
<line x1="224.40" y1="197.90" x2="238.60" y2="197.90" stroke="#000" stroke-width="1.3"/><polygon points="246.60,197.90 238.10,201.70 238.10,194.10" fill="#000"/>
<text x="125.8" y="279.6" font-size="9" fill="#222" font-family="Liberation Serif, serif" textLength="31.6" lengthAdjust="spacingAndGlyphs"><tspan font-style="italic">P</tspan><tspan font-size="6.3" baseline-shift="-2.0">2</tspan>(<tspan font-style="italic">x</tspan><tspan font-size="6.3" baseline-shift="-2.0">2</tspan>, 0)</text>
<line x1="148.00" y1="285.40" x2="156.42" y2="294.68" stroke="#000" stroke-width="1.3"/><polygon points="161.80,300.60 153.27,296.86 158.90,291.75" fill="#000"/>
<text x="199.1" y="282.5" font-size="9.0" fill="#ff0000" stroke="#ff0000" stroke-width="0.08" font-family="Liberation Serif, serif"><tspan font-style="italic">y</tspan></text>
<text x="206.4" y="282.7" font-size="11.25" fill="#ff0000" stroke="#ff0000" stroke-width="0.08" font-family="Liberation Serif, serif">=</text>
<text x="215.1" y="282.5" font-size="9.0" fill="#ff0000" stroke="#ff0000" stroke-width="0.08" font-family="Liberation Serif, serif" textLength="13.7" lengthAdjust="spacingAndGlyphs"><tspan font-style="italic">clip</tspan></text>
<path d="M236.30,269.40 Q225.10,280.05 236.30,290.70 Q227.70,280.05 236.30,269.40 Z" fill="#ff0000" stroke="#ff0000" stroke-width="0.25"/>
<text x="253.5" y="276.4" font-size="9.0" fill="#ff0000" stroke="#ff0000" stroke-width="0.08" font-family="Liberation Serif, serif" text-anchor="middle">1</text>
<line x1="236.3" y1="279.5" x2="270.6" y2="279.5" stroke="#ff0000" stroke-width="0.75"/>
<text x="236.7" y="288.2" font-size="9.0" fill="#ff0000" stroke="#ff0000" stroke-width="0.08" font-family="Liberation Serif, serif" textLength="33.8" lengthAdjust="spacingAndGlyphs">(<tspan font-style="italic">x</tspan><tspan font-size="6.3" baseline-shift="-2.0">1</tspan> − <tspan font-style="italic">x</tspan><tspan font-size="6.3" baseline-shift="-2.0">2</tspan>)</text>
<text x="272.3" y="282.5" font-size="9.0" fill="#ff0000" stroke="#ff0000" stroke-width="0.08" font-family="Liberation Serif, serif" textLength="45.6" lengthAdjust="spacingAndGlyphs">(<tspan font-style="italic">x</tspan> − <tspan font-style="italic">x</tspan><tspan font-size="6.3" baseline-shift="-2.0">2</tspan>), 0, 1</text>
<path d="M318.20,269.40 Q329.40,280.05 318.20,290.70 Q326.80,280.05 318.20,269.40 Z" fill="#ff0000" stroke="#ff0000" stroke-width="0.25"/>
<rect x="600.1" y="190.9" width="67.8" height="118.3" fill="#e6e6e6"/>
<polyline points="480.7,261.6 537.4,197.3" fill="none" stroke="#c8c8c8" stroke-width="2.0" stroke-linejoin="round" stroke-dasharray="6.2,2.35" />
<defs><clipPath id="cpd"><rect x="380" y="240" width="220.1" height="30"/></clipPath></defs>
<polyline points="403.1,258.1 668,258.1" fill="none" stroke="#8fb6d6" stroke-width="2.2" stroke-linejoin="round" stroke-dasharray="2.2,2.09" />
<polyline points="403.1,258.1 668,258.1" fill="none" stroke="#1a72b8" stroke-width="2.2" stroke-linejoin="round" stroke-dasharray="2.2,2.09" clip-path="url(#cpd)"/>
<polyline points="400.4,303.4 439.94,303.4 453.12,290.8 466.3,279.4 479.48,260.5 598.1,260.5" fill="none" stroke="#000" stroke-width="1.2" stroke-linejoin="round" />
<polyline points="598.1,260.5 611,236 624.2,229.9 638,216.3 650.4,208 664.5,200.4" fill="none" stroke="#6e6e6e" stroke-width="1.2" stroke-linejoin="round" />
<polyline points="401.6,301.7 441,301.7 480.7,261.6 599.9,261.6" fill="none" stroke="#ff0000" stroke-width="2.2" stroke-linejoin="round" stroke-dasharray="6.5,2.2" />
<text x="627.0" y="305.7" font-family="Liberation Sans, sans-serif" font-size="11" fill="#888" textLength="37.4" lengthAdjust="spacingAndGlyphs">ignored</text>
<text x="393.8" y="250.5" font-size="9" fill="#ff0000" stroke="#ff0000" stroke-width="0.08" font-family="Liberation Serif, serif" textLength="29.7" lengthAdjust="spacingAndGlyphs"><tspan font-style="italic">y</tspan>= <tspan font-style="italic">ythr</tspan></text>
<text x="481.8" y="201.1" font-size="9" fill="#222" font-family="Liberation Serif, serif" textLength="31.5" lengthAdjust="spacingAndGlyphs"><tspan font-style="italic">P</tspan><tspan font-size="6.3" baseline-shift="-2.0">1</tspan>(<tspan font-style="italic">x</tspan><tspan font-size="6.3" baseline-shift="-2.0">1</tspan>, 1)</text>
<line x1="514.00" y1="196.80" x2="528.40" y2="196.80" stroke="#000" stroke-width="1.3"/><polygon points="536.40,196.80 527.90,200.60 527.90,193.00" fill="#000"/>
<text x="392.9" y="286.4" font-size="9" fill="#222" font-family="Liberation Serif, serif" textLength="31.5" lengthAdjust="spacingAndGlyphs"><tspan font-style="italic">P</tspan><tspan font-size="6.3" baseline-shift="-2.0">2</tspan>(<tspan font-style="italic">x</tspan><tspan font-size="6.3" baseline-shift="-2.0">2</tspan>, 0)</text>
<line x1="426.20" y1="283.80" x2="434.74" y2="292.65" stroke="#000" stroke-width="1.3"/><polygon points="440.30,298.40 431.66,294.93 437.13,289.65" fill="#000"/>
<text x="459.9" y="299.0" font-size="9.0" fill="#ff0000" stroke="#ff0000" stroke-width="0.08" font-family="Liberation Serif, serif"><tspan font-style="italic">y</tspan></text>
<text x="467.2" y="299.2" font-size="11.25" fill="#ff0000" stroke="#ff0000" stroke-width="0.08" font-family="Liberation Serif, serif">=</text>
<text x="475.9" y="299.0" font-size="9.0" fill="#ff0000" stroke="#ff0000" stroke-width="0.08" font-family="Liberation Serif, serif" textLength="13.7" lengthAdjust="spacingAndGlyphs"><tspan font-style="italic">clip</tspan></text>
<path d="M497.10,285.90 Q485.90,296.55 497.10,307.20 Q488.50,296.55 497.10,285.90 Z" fill="#ff0000" stroke="#ff0000" stroke-width="0.25"/>
<text x="514.3" y="292.9" font-size="9.0" fill="#ff0000" stroke="#ff0000" stroke-width="0.08" font-family="Liberation Serif, serif" text-anchor="middle">1</text>
<line x1="497.1" y1="296.0" x2="531.4" y2="296.0" stroke="#ff0000" stroke-width="0.75"/>
<text x="497.5" y="304.7" font-size="9.0" fill="#ff0000" stroke="#ff0000" stroke-width="0.08" font-family="Liberation Serif, serif" textLength="33.8" lengthAdjust="spacingAndGlyphs">(<tspan font-style="italic">x</tspan><tspan font-size="6.3" baseline-shift="-2.0">1</tspan> − <tspan font-style="italic">x</tspan><tspan font-size="6.3" baseline-shift="-2.0">2</tspan>)</text>
<text x="533.1" y="299.0" font-size="9.0" fill="#ff0000" stroke="#ff0000" stroke-width="0.08" font-family="Liberation Serif, serif" textLength="58.8" lengthAdjust="spacingAndGlyphs">(<tspan font-style="italic">x</tspan> − <tspan font-style="italic">x</tspan><tspan font-size="6.3" baseline-shift="-2.0">2</tspan>), 0, <tspan font-style="italic">ythr</tspan></text>
<path d="M590.80,285.90 Q602.00,296.55 590.80,307.20 Q599.40,296.55 590.80,285.90 Z" fill="#ff0000" stroke="#ff0000" stroke-width="0.25"/>
<polyline points="187.4,481.73 200.93,480.23 214.46,481.09 227.99,480.02 241.52,482.69 255.05,481.62 268.58,480.02 282.11,480.02 295.64,480.87 309.17,479.81 322.7,480.23 336.23,479.81 349.76,480.45 363.29,481.09 376.82,482.79 390.35,481.09 403.88,482.58 417.41,478.31 430.94,469.67 444.47,465.83 458,461.88" fill="none" stroke="#000" stroke-width="1.2" stroke-linejoin="round" />
<polyline points="186.6,480.9 418.2,480.9 556.6,374.3" fill="none" stroke="#ff0000" stroke-width="2.2" stroke-linejoin="round" stroke-dasharray="6.6,1.98" />
<text x="496.1" y="378.4" font-size="9" fill="#222" font-family="Liberation Serif, serif" textLength="31.0" lengthAdjust="spacingAndGlyphs"><tspan font-style="italic">P</tspan><tspan font-size="6.3" baseline-shift="-2.0">1</tspan>(<tspan font-style="italic">x</tspan><tspan font-size="6.3" baseline-shift="-2.0">1</tspan>, 1)</text>
<line x1="528.00" y1="374.85" x2="542.10" y2="374.85" stroke="#000" stroke-width="1.3"/><polygon points="550.10,374.85 541.60,378.65 541.60,371.05" fill="#000"/>
<text x="385.8" y="459.9" font-size="9" fill="#222" font-family="Liberation Serif, serif" textLength="30.7" lengthAdjust="spacingAndGlyphs"><tspan font-style="italic">P</tspan><tspan font-size="6.3" baseline-shift="-2.0">2</tspan>(<tspan font-style="italic">x</tspan><tspan font-size="6.3" baseline-shift="-2.0">2</tspan>, 0)</text>
<line x1="402.60" y1="462.80" x2="411.27" y2="472.84" stroke="#000" stroke-width="1.3"/><polygon points="416.50,478.90 408.07,474.95 413.82,469.98" fill="#000"/>
<polyline points="191.1,647.9 262.23,647.9 459.5,541.5 553.44,541.5" fill="none" stroke="#f88d52" stroke-width="1.3" stroke-linejoin="round" />
<polyline points="191.1,647.9 419.24,647.9 553.44,541.5 553.44,541.5" fill="none" stroke="#9e0142" stroke-width="1.3" stroke-linejoin="round" />
<polyline points="191.1,647.9 311.88,647.9 446.08,541.5 553.44,541.5" fill="none" stroke="#ba2049" stroke-width="1.3" stroke-linejoin="round" />
<polyline points="191.1,647.9 244.78,647.9 444.74,541.5 553.44,541.5" fill="none" stroke="#d63f4f" stroke-width="1.3" stroke-linejoin="round" />
<polyline points="191.1,647.9 325.3,647.9 459.5,541.5 553.44,541.5" fill="none" stroke="#e75948" stroke-width="1.3" stroke-linejoin="round" />
<polyline points="191.1,647.9 258.2,647.9 458.16,541.5 553.44,541.5" fill="none" stroke="#e4513f" stroke-width="1.3" stroke-linejoin="round" />
<polyline points="191.1,647.9 258.2,647.9 392.4,541.5 553.44,541.5" fill="none" stroke="#fa9656" stroke-width="1.3" stroke-linejoin="round" />
<polyline points="191.1,647.9 298.46,647.9 378.98,541.5 553.44,541.5" fill="none" stroke="#fdb567" stroke-width="1.3" stroke-linejoin="round" />
<polyline points="191.1,647.9 298.46,647.9 365.56,541.5 553.44,541.5" fill="none" stroke="#fed07e" stroke-width="1.3" stroke-linejoin="round" />
<polyline points="191.1,647.9 286.38,647.9 352.14,541.5 553.44,541.5" fill="none" stroke="#fcf0a0" stroke-width="1.3" stroke-linejoin="round" />
<polyline points="191.1,647.9 258.2,647.9 352.14,541.5 553.44,541.5" fill="none" stroke="#fbf8b0" stroke-width="1.3" stroke-linejoin="round" />
<polyline points="191.1,647.9 244.78,647.9 338.72,541.5 553.44,541.5" fill="none" stroke="#e6f598" stroke-width="1.3" stroke-linejoin="round" />
<polyline points="191.1,647.9 244.78,647.9 338.72,541.5 553.44,541.5" fill="none" stroke="#c4e79f" stroke-width="1.3" stroke-linejoin="round" />
<polyline points="191.1,647.9 231.36,647.9 325.3,541.5 553.44,541.5" fill="none" stroke="#9fd8a3" stroke-width="1.3" stroke-linejoin="round" />
<polyline points="191.1,647.9 231.36,647.9 311.88,541.5 553.44,541.5" fill="none" stroke="#b3e0a2" stroke-width="1.3" stroke-linejoin="round" />
<polyline points="191.1,647.9 204.52,647.9 311.88,541.5 553.44,541.5" fill="none" stroke="#91d3a4" stroke-width="1.3" stroke-linejoin="round" />
<polyline points="191.1,647.9 204.52,647.9 271.62,541.5 553.44,541.5" fill="none" stroke="#6bc4a5" stroke-width="1.3" stroke-linejoin="round" />
<polyline points="191.1,647.9 217.94,647.9 271.62,541.5 553.44,541.5" fill="none" stroke="#50a9af" stroke-width="1.3" stroke-linejoin="round" />
<polyline points="191.1,647.9 191.1,647.9 298.46,541.5 553.44,541.5" fill="none" stroke="#3389bd" stroke-width="1.3" stroke-linejoin="round" />
<polyline points="191.1,647.9 191.1,647.9 244.78,541.5 553.44,541.5" fill="none" stroke="#486cb0" stroke-width="1.3" stroke-linejoin="round" />
<polyline points="191.1,647.9 191.1,647.9 258.2,541.5 553.44,541.5" fill="none" stroke="#5e4fa2" stroke-width="1.3" stroke-linejoin="round" />
</svg></body></html>
